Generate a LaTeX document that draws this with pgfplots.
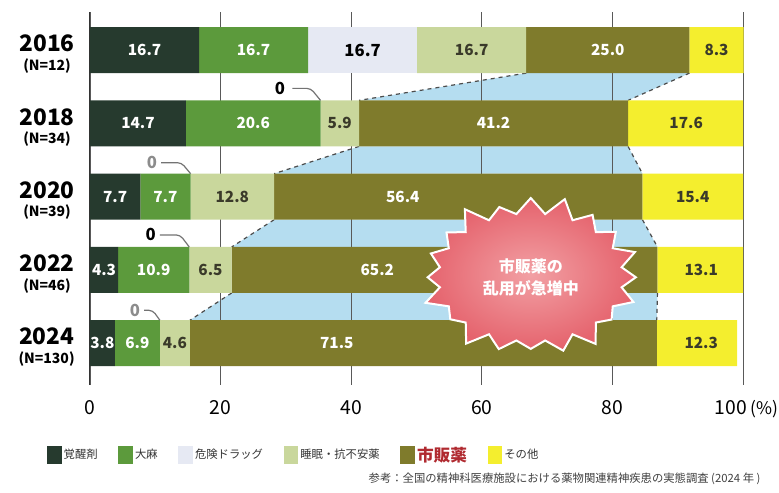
\documentclass[border=0pt]{standalone}
\usepackage{fontspec}
\setmainfont{Noto Sans CJK JP}
\usepackage{pgfplots}
\pgfplotsset{compat=1.18}
\usetikzlibrary{shapes.symbols}
\definecolor{cA}{HTML}{263A2E}
\definecolor{cB}{HTML}{5C9A3C}
\definecolor{cC}{HTML}{E6E9F3}
\definecolor{cD}{HTML}{C9D79C}
\definecolor{cE}{HTML}{7F7B2C}
\definecolor{cF}{HTML}{F4EE2E}
\definecolor{cBlue}{HTML}{B5DDF0}
\definecolor{cStarIn}{HTML}{F2A0A4}
\definecolor{cStarOut}{HTML}{E5636D}
\definecolor{cRed}{HTML}{B02A30}
\definecolor{cDark}{HTML}{3A3A2A}
\pgfplotsset{base/.style={scale only axis, width=489.75pt, height=279.75pt,
  xmin=0, xmax=100, ymin=-0.52, ymax=4.57, y dir=reverse,
  at={(0pt,0pt)}, anchor=south west, axis line style={draw=none}, clip=false}}
\begin{document}
\begin{tikzpicture}
\useasboundingbox (-67.5pt,-81pt) rectangle (516.75pt,288.75pt);
% background: grid, ticks, blue connectors
\begin{axis}[base, axis on top,
  xmajorgrids, grid style={draw=black!65, line width=0.6pt},
  major tick length=0pt,
  xtick={0,20,40,60,80,100},
  xticklabels={0,20,40,60,80,{\kern-18pt 100\rlap{\,{\fontsize{13}{14}\selectfont(\%)}}}},
  xticklabel style={font=\fontsize{14.5}{16}\selectfont, yshift=-8pt},
  ytick={0,1,2,3,4},
  yticklabels={{2016\\[-4pt]{\fontsize{10.5}{11}\selectfont(N=12)}},
               {2018\\[-4pt]{\fontsize{10.5}{11}\selectfont(N=34)}},
               {2020\\[-4pt]{\fontsize{10.5}{11}\selectfont(N=39)}},
               {2022\\[-4pt]{\fontsize{10.5}{11}\selectfont(N=46)}},
               {2024\\[-4pt]{\fontsize{10.5}{11}\selectfont(N=130)}}},
  yticklabel style={align=center, font=\bfseries\fontsize{17}{18}\selectfont, xshift=-8pt, yshift=-3pt},
]
\addplot[fill=cBlue, draw=none, forget plot] coordinates {(66.8,0.314) (91.8,0.314) (82.4,0.686) (41.2,0.686)} -- cycle;
\addplot[fill=cBlue, draw=none, forget plot] coordinates {(41.2,1.314) (82.4,1.314) (84.6,1.686) (28.2,1.686)} -- cycle;
\addplot[fill=cBlue, draw=none, forget plot] coordinates {(28.2,2.314) (84.6,2.314) (86.9,2.686) (21.7,2.686)} -- cycle;
\addplot[fill=cBlue, draw=none, forget plot] coordinates {(21.7,3.314) (86.9,3.314) (86.8,3.686) (15.3,3.686)} -- cycle;
\addplot[dashed, black!70, line width=0.9pt, forget plot] coordinates {(66.8,0.314) (41.2,0.686)};
\addplot[dashed, black!70, line width=0.9pt, forget plot] coordinates {(91.8,0.314) (82.4,0.686)};
\addplot[dashed, black!70, line width=0.9pt, forget plot] coordinates {(41.2,1.314) (28.2,1.686)};
\addplot[dashed, black!70, line width=0.9pt, forget plot] coordinates {(82.4,1.314) (84.6,1.686)};
\addplot[dashed, black!70, line width=0.9pt, forget plot] coordinates {(28.2,2.314) (21.7,2.686)};
\addplot[dashed, black!70, line width=0.9pt, forget plot] coordinates {(84.6,2.314) (86.9,2.686)};
\addplot[dashed, black!70, line width=0.9pt, forget plot] coordinates {(21.7,3.314) (15.3,3.686)};
\addplot[dashed, black!70, line width=0.9pt, forget plot] coordinates {(86.9,3.314) (86.8,3.686)};
\addplot[black!80, line width=1.3pt, forget plot] coordinates {(0,-0.52) (0,4.57)};
\end{axis}
% stacked bars
\begin{axis}[base, xbar stacked, bar width=0.628, xtick=\empty, ytick=\empty,
  legend columns=6,
  legend style={at={(0.312,-0.188)}, anchor=center, draw=none, fill=none,
    font=\fontsize{8.5}{9}\selectfont, text=black!80,
    /tikz/every even column/.append style={column sep=14pt},
    nodes={inner sep=1.5pt}},
  legend image code/.code={\fill[#1, draw=none] (0pt,-7pt) rectangle (11pt,7pt);},
]
\addplot[fill=cA, draw=none] coordinates {(16.7,0) (14.7,1) (7.7,2) (4.3,3) (3.8,4)};
\addplot[fill=cB, draw=none] coordinates {(16.7,0) (20.6,1) (7.7,2) (10.9,3) (6.9,4)};
\addplot[fill=cC, draw=none] coordinates {(16.7,0) (0,1) (0,2) (0,3) (0,4)};
\addplot[fill=cD, draw=none] coordinates {(16.7,0) (5.9,1) (12.8,2) (6.5,3) (4.6,4)};
\addplot[fill=cE, draw=none] coordinates {(25.0,0) (41.2,1) (56.4,2) (65.2,3) (71.5,4)};
\addplot[fill=cF, draw=none] coordinates {(8.3,0) (17.6,1) (15.4,2) (13.1,3) (12.3,4)};
\legend{覚醒剤, 大麻, 危険ドラッグ, 睡眠・抗不安薬, {\textcolor{cRed}{\bfseries\fontsize{12.5}{13}\selectfont 市販薬}}, その他}
\end{axis}
% labels and annotations
\begin{axis}[base, xtick=\empty, ytick=\empty]
\node[starburst, starburst points=20, starburst point height=16pt,
  minimum width=170pt, minimum height=128pt, inner sep=0pt,
  inner color=cStarIn, outer color=cStarOut, draw=white, line width=1.5pt,
  align=center, text=white, font=\bfseries\fontsize{12}{16}\selectfont]
  at (axis cs:67.5,3.1) {市販薬の\\乱用が急増中};
\addplot[draw=none, mark=none, nodes near coords, point meta=explicit symbolic,
  nodes near coords style={anchor=center, text=white, font=\bfseries\fontsize{11.5}{12}\selectfont}]
  table[meta=lab] {
x y lab
8.35 0 16.7
25.05 0 16.7
79.3 0 25.0
7.35 1 14.7
25.0 1 20.6
61.8 1 41.2
3.85 2 7.7
11.55 2 7.7
47.9 2 56.4
2.15 3 4.3
9.75 3 10.9
44.0 3 65.2
1.9 4 3.8
7.25 4 6.9
37.8 4 71.5
};
\addplot[draw=none, mark=none, nodes near coords, point meta=explicit symbolic,
  nodes near coords style={anchor=center, text=cDark, font=\bfseries\fontsize{11.5}{12}\selectfont}]
  table[meta=lab] {
x y lab
58.45 0 16.7
95.95 0 8.3
38.25 1 5.9
91.3 1 17.6
21.8 2 12.8
92.3 2 15.4
18.45 3 6.5
93.6 3 13.1
13.0 4 4.6
93.6 4 12.3
};
\addplot[draw=none, mark=none, nodes near coords, point meta=explicit symbolic,
  nodes near coords style={anchor=center, text=black, font=\bfseries\fontsize{12.5}{13}\selectfont}]
  table[meta=lab] {
x y lab
41.75 0 16.7
29.1 0.522 0
9.3 2.522 0
};
\addplot[draw=none, mark=none, nodes near coords, point meta=explicit symbolic,
  nodes near coords style={anchor=center, text=black!45, font=\bfseries\fontsize{12.5}{13}\selectfont}]
  table[meta=lab] {
x y lab
9.5 1.536 0
6.9 3.55 0
};
\addplot[black!55, line width=0.9pt, rounded corners=3pt] coordinates {(31.0,0.522) (33.8,0.522) (35.3,0.686)};
\addplot[black!55, line width=0.9pt, rounded corners=3pt] coordinates {(10.9,1.536) (14.0,1.536) (15.4,1.686)};
\addplot[black!55, line width=0.9pt, rounded corners=3pt] coordinates {(10.7,2.522) (13.8,2.522) (15.2,2.686)};
\addplot[black!55, line width=0.9pt, rounded corners=3pt] coordinates {(8.3,3.55) (9.6,3.55) (10.7,3.686)};
\node[anchor=east, font=\fontsize{8.5}{9}\selectfont, text=black!75] at (rel axis cs:1.034,-0.252)
  {参考：全国の精神科医療施設における薬物関連精神疾患の実態調査 (2024 年 )};
\end{axis}
\end{tikzpicture}
\end{document}
